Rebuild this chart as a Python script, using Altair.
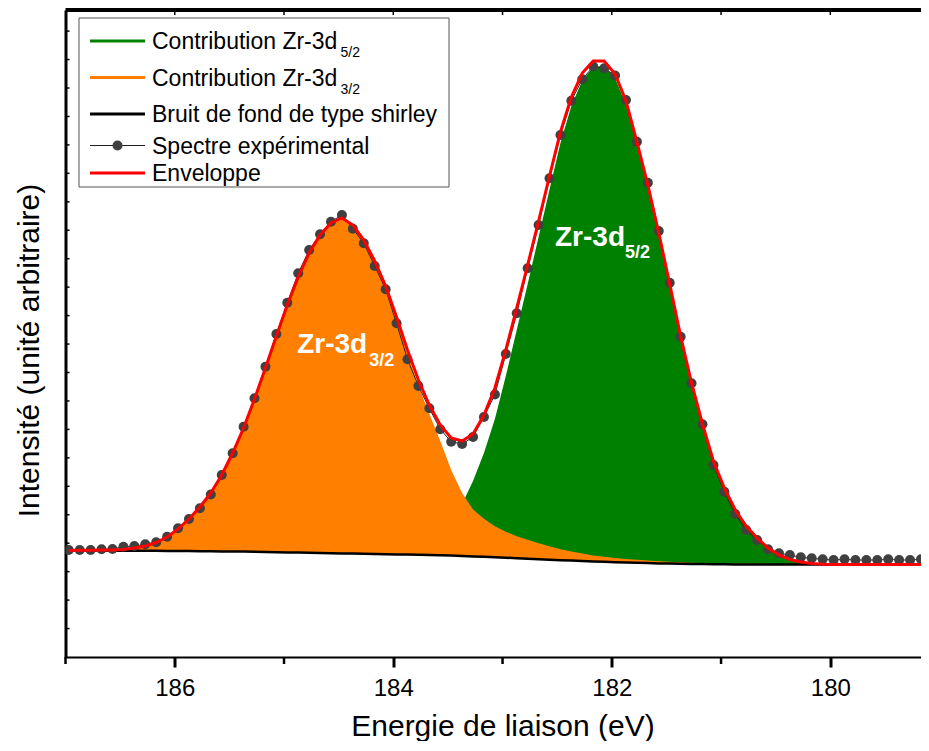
import altair as alt
import pandas as pd

# ---------------- data ----------------
energies = [round(186.97 - 0.1 * i, 2) for i in range(80)]  # binding energy grid (eV)

experimental = [107, 107, 107, 107.7, 108, 110.3, 111, 112.7, 114.7, 120.3,
                128.7, 138, 148.7, 162.5, 182, 203.7, 230.3, 258.7, 290.3, 323,
                354.3, 383.7, 407, 422.7, 435.3, 442, 428.3, 413.7, 391, 367.7,
                333.7, 297.7, 271, 248.7, 227.7, 215.3, 213, 220, 240, 262.5,
                303, 343.7, 388.7, 432, 478.7, 522, 556.3, 577.7, 590.5, 588.7,
                581.5, 557, 515.3, 474.3, 426, 374.3, 320.3, 273.7, 232.7, 192,
                165.3, 143, 127, 117, 107.7, 103.7, 102, 99.7, 98.7, 97.7,
                97, 97.7, 97, 97, 97, 97.7, 97, 97, 97.7, 97]

background = [106.4, 106.4, 106.4, 106.4, 106.3, 106.3, 106.3, 106.2, 106.2, 106.1,
              106.0, 105.9, 105.8, 105.7, 105.6, 105.5, 105.4, 105.2, 105.0, 104.8,
              104.6, 104.4, 104.2, 104.0, 103.8, 103.6, 103.4, 103.2, 103.0, 102.8,
              102.6, 102.4, 102.2, 102.0, 101.7, 101.4, 101.0, 100.6, 100.2, 99.8,
              99.3, 98.8, 98.3, 97.8, 97.3, 96.8, 96.4, 96.0, 95.6, 95.2,
              94.8, 94.5, 94.2, 93.9, 93.6, 93.4, 93.2, 93.0, 92.9, 92.8,
              92.7, 92.6, 92.6, 92.5, 92.5, 92.5, 92.5, 92.5, 92.5, 92.5,
              92.5, 92.5, 92.5, 92.5, 92.5, 92.5, 92.5, 92.5, 92.5, 92.5]

contrib_52 = [0.2, 0.2, 0.2, 0.2, 0.3, 0.3, 0.3, 0.3, 0.3, 0.3,
              0.4, 0.4, 0.4, 0.4, 0.5, 0.5, 0.5, 0.5, 0.6, 0.6,
              0.7, 0.8, 0.9, 1.0, 1.2, 1.4, 1.6, 1.9, 2.3, 2.7,
              3.2, 4.0, 5.5, 9, 16, 32, 52, 75.4, 103.8, 138.2,
              181.7, 228.2, 274.7, 322.2, 370.2, 417.2, 454.6, 480.5, 494.4, 495.8,
              484, 458, 417.8, 375.6, 328.3, 277.8, 226.3, 179.7, 139, 102.2,
              75.4, 53.6, 37.6, 25.8, 15.8, 8.9, 4.4, 2, 0.5, 0,
              0, 0, 0, 0, 0, 0, 0, 0, 0, 0]

contrib_32 = [0, 0.1, 0.2, 0.3, 0.4, 0.9, 2.4, 4.5, 8.0, 13.6,
              21.6, 31.7, 43.8, 57.9, 75.9, 98, 123.1, 152.3, 183.4, 215.6,
              246.7, 274.8, 298.9, 317, 329, 334, 327, 311.9, 290.7, 265.5,
              234.2, 200.6, 169.3, 141, 114.3, 85.6, 63, 47, 38, 31,
              26, 22, 19, 16, 13.5, 11, 9, 7.5, 6, 5,
              4.2, 3.5, 3, 2.5, 2.1, 1.8, 1.5, 1.3, 1.1, 1.0,
              0.9, 0.8, 0.8, 0.7, 0.7, 0.6, 0.6, 0.5, 0.5, 0.3,
              0, 0, 0, 0, 0, 0, 0, 0, 0, 0]

major_ticks = [186, 184, 182, 180]
minor_ticks = [187, 185, 183, 181]
top_ticks = [186, 185, 184, 183, 182, 181, 180]
y_ticks = [28.45 * k for k in range(1, 23)]

anno_main = ["Zr-3d", "Zr-3d"]
anno_sub = ["5/2", "3/2"]
anno_energy = [182.52, 184.88]
anno_intensity = [411, 304]
anno_sub_energy = [181.88, 184.22]
anno_sub_intensity = [399, 291]

legend_labels = ["Contribution Zr-3d", "Contribution Zr-3d",
                 "Bruit de fond de type shirley", "Spectre expérimental", "Enveloppe"]
legend_subs = ["5/2", "3/2", "", "", ""]
legend_colors = ["#008000", "#FF8000", "#000000", "#222222", "#FF0000"]

# ---------------- table ----------------
df = pd.DataFrame({"E": energies, "exp": experimental, "bg": background,
                   "g": contrib_52, "o": contrib_32})
df["gtop"] = df["bg"] + df["g"]
df["otop"] = df["bg"] + df["o"]
df["env"] = df["bg"] + df["g"] + df["o"]

W, H = 855.5, 647
FONT = "Liberation Sans"

xs = alt.Scale(domain=[179.17, 187], reverse=True, nice=False, zero=False)
ys = alt.Scale(domain=[0, 647], nice=False, zero=False)

x_axis = alt.Axis(values=major_ticks, format="d", labelFontSize=24, labelFont=FONT,
                  labelColor="black", tickSize=10, tickWidth=3, tickColor="black",
                  domainColor="black", domainWidth=2, labelPadding=9, grid=False,
                  title="Energie de liaison (eV)", titleFontSize=30, titleFont=FONT,
                  titleFontWeight="normal", titleColor="black", titleY=78,
                  titleX=437, titleBaseline="alphabetic")
y_axis = alt.Axis(labels=False, ticks=False, grid=False, domainColor="black",
                  domainWidth=3, title="Intensité (unité arbitraire)",
                  titleFontSize=30, titleFont=FONT, titleFontWeight="normal",
                  titleColor="black", titleX=-27.5, titleY=340, titleAngle=270,
                  titleBaseline="alphabetic", titleAlign="center")


def X(field="E"):
    return alt.X(f"{field}:Q", scale=xs, axis=x_axis)


def Y(field):
    return alt.Y(f"{field}:Q", scale=ys, axis=y_axis)


base = alt.Chart(df)
green = base.mark_area(color="#008000", clip=True).encode(x=X(), y=Y("gtop"), y2="bg:Q")
orange = base.mark_area(color="#FF8000", clip=True).encode(x=X(), y=Y("otop"), y2="bg:Q")
bgline = base.mark_line(color="black", strokeWidth=2.5, clip=True).encode(x=X(), y=Y("bg"))
expline = base.mark_line(color="#222222", strokeWidth=1, clip=True).encode(x=X(), y=Y("exp"))
exppts = base.mark_circle(color="#404040", opacity=1, size=100, clip=True).encode(x=X(), y=Y("exp"))
envline = base.mark_line(color="#FF0000", strokeWidth=3, clip=True).encode(x=X(), y=Y("env"))

anno_df = pd.DataFrame({"E": anno_energy, "I": anno_intensity, "t": anno_main})
sub_df = pd.DataFrame({"E": anno_sub_energy, "I": anno_sub_intensity, "t": anno_sub})
anno = alt.Chart(anno_df).mark_text(align="left", baseline="alphabetic", font=FONT,
                                    fontWeight="bold", fontSize=28, color="white").encode(
    x=X(), y=Y("I"), text="t:N")
anno_s = alt.Chart(sub_df).mark_text(align="left", baseline="alphabetic", font=FONT,
                                     fontWeight="bold", fontSize=18, color="white").encode(
    x=X(), y=Y("I"), text="t:N")

# axis decorations
minor = alt.Chart(pd.DataFrame({"E": minor_ticks})).mark_rule(
    color="black", strokeWidth=2.5).encode(x=X(), y=alt.value(H), y2=alt.value(H + 7))
topt = alt.Chart(pd.DataFrame({"E": top_ticks})).mark_rule(
    color="black", strokeWidth=1.5).encode(x=X(), y=alt.value(0), y2=alt.value(5))
topb = alt.Chart(pd.DataFrame({"k": [0]})).mark_rule(color="black", strokeWidth=4).encode(
    x=alt.value(0), x2=alt.value(W), y=alt.value(0))
ytk = alt.Chart(pd.DataFrame({"v": y_ticks})).mark_rule(
    color="black", strokeWidth=1.5).encode(y=Y("v"), x=alt.value(0), x2=alt.value(4))

# manual legend
one = pd.DataFrame({"k": [0]})
leg_layers = [alt.Chart(one).mark_rect(fill="white", stroke="#555555", strokeWidth=1).encode(
    x=alt.value(13.5), x2=alt.value(383.5), y=alt.value(8), y2=alt.value(177))]
row_y = [31, 67.5, 104, 135.5, 163]
for i, (lab, sub, col) in enumerate(zip(legend_labels, legend_subs, legend_colors)):
    yy = row_y[i]
    sw = 1 if i == 3 else 3
    leg_layers.append(alt.Chart(one).mark_rule(color=col, strokeWidth=sw).encode(
        x=alt.value(24.5), x2=alt.value(79.5), y=alt.value(yy)))
    if i == 3:
        leg_layers.append(alt.Chart(one).mark_circle(color="#404040", opacity=1, size=100).encode(
            x=alt.value(52), y=alt.value(yy)))
    leg_layers.append(alt.Chart(one).mark_text(align="left", baseline="alphabetic", font=FONT,
                                               fontSize=23, color="black", text=lab).encode(
        x=alt.value(86.5), y=alt.value(yy + 8)))
    if sub:
        leg_layers.append(alt.Chart(one).mark_text(align="left", baseline="alphabetic", font=FONT,
                                                   fontSize=14, color="black", text=sub).encode(
            x=alt.value(275), y=alt.value(yy + 16)))

chart = alt.layer(green, orange, bgline, expline, exppts, envline, anno, anno_s,
                  minor, topt, topb, ytk, *leg_layers).properties(
    width=W, height=H,
    padding={"left": 57.5, "top": 2, "right": 0, "bottom": 84},
    autosize=alt.AutoSizeParams(type="none"),
).configure_view(stroke=None)

chart.save("out.html", embed_options={"renderer": "svg", "actions": False})
